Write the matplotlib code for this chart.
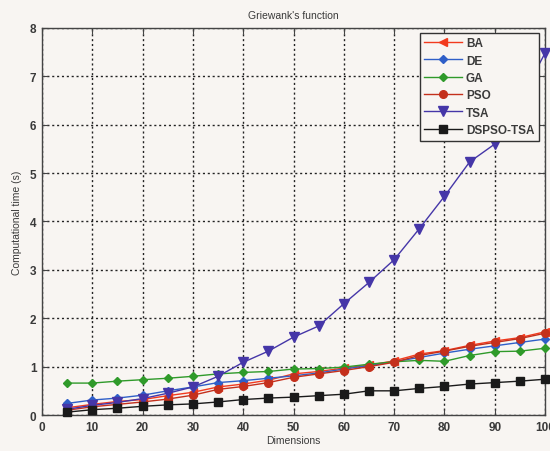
import numpy as np
import matplotlib.pyplot as plt
from matplotlib.lines import Line2D

plt.rcParams.update({'font.family': ['Liberation Sans', 'DejaVu Sans'], 'axes.unicode_minus': False})

dims = [5, 10, 15, 20, 25, 30, 35, 40, 45, 50, 55, 60, 65, 70, 75, 80, 85, 90, 95, 100]
ba = [0.15, 0.22, 0.28, 0.32, 0.40, 0.47, 0.58, 0.64, 0.72, 0.85, 0.90, 0.97, 1.03, 1.12, 1.26, 1.33, 1.44, 1.53, 1.60, 1.72]
de = [0.24, 0.31, 0.35, 0.41, 0.50, 0.58, 0.67, 0.71, 0.76, 0.81, 0.87, 0.95, 1.02, 1.10, 1.19, 1.28, 1.36, 1.43, 1.50, 1.57]
ga = [0.66, 0.66, 0.70, 0.73, 0.76, 0.80, 0.85, 0.88, 0.90, 0.95, 0.96, 0.99, 1.05, 1.10, 1.13, 1.11, 1.23, 1.31, 1.32, 1.38]
pso = [0.10, 0.17, 0.22, 0.27, 0.33, 0.41, 0.53, 0.59, 0.67, 0.78, 0.85, 0.92, 1.00, 1.09, 1.23, 1.32, 1.42, 1.50, 1.58, 1.69]
tsa = [0.12, 0.20, 0.26, 0.34, 0.45, 0.58, 0.80, 1.09, 1.32, 1.61, 1.84, 2.30, 2.74, 3.21, 3.85, 4.52, 5.23, 5.60, 6.50, 7.48]
dspso_tsa = [0.06, 0.11, 0.14, 0.18, 0.21, 0.23, 0.27, 0.32, 0.35, 0.37, 0.40, 0.43, 0.50, 0.50, 0.55, 0.59, 0.64, 0.67, 0.70, 0.74]

series = [
    ('BA', ba, '#f23a1e', '<'),
    ('DE', de, '#2f5fc8', 'D'),
    ('GA', ga, '#2f9a2a', 'D'),
    ('PSO', pso, '#c4301c', 'o'),
    ('TSA', tsa, '#4536a8', 'v'),
    ('DSPSO-TSA', dspso_tsa, '#1a1a1a', 's'),
]
msize = {'<': 6, 'D': 4.5, 'o': 5.5, 'v': 6.5, 's': 5.5}

TEXT = '#3a3a3a'
BG = '#f8f5f2'

fig = plt.figure(figsize=(5.5, 4.52), dpi=100, facecolor=BG)
ax = fig.add_axes([0.0764, 0.0796, 0.9146, 0.8564])
ax.set_facecolor(BG)

handles = []
for name, vals, color, marker in series:
    ax.plot(dims, vals, color=color, marker=marker, markersize=msize[marker],
            markerfacecolor=color, markeredgecolor=color, linewidth=1.0, zorder=3, clip_on=False)
    handles.append(Line2D([0], [0], color=color, marker=marker, markersize=msize[marker],
                          markerfacecolor=color, markeredgecolor=color, linewidth=1.0, label=name))

ax.set_xlim(0, 100)
ax.set_ylim(0, 8)
ax.set_xticks(np.arange(0, 101, 10))
ax.set_yticks(np.arange(0, 9, 1))
ax.grid(True, color='#222222', linestyle=(0, (1.5, 2.0)), linewidth=1.0)
ax.set_axisbelow(True)
for spine in ax.spines.values():
    spine.set_color('#444444')
    spine.set_linewidth(1.0)
ax.tick_params(direction='in', top=True, right=True, length=4, color='#444444',
               labelsize=8.5, labelcolor=TEXT, pad=4)
for lbl in ax.get_xticklabels() + ax.get_yticklabels():
    lbl.set_fontweight('bold')

ax.set_title("Griewank's function", fontsize=7.5, color=TEXT, pad=7)
ax.set_xlabel('Dimensions', fontsize=7.5, color=TEXT, labelpad=2)
ax.set_ylabel('Computational time (s)', fontsize=7.5, color=TEXT, labelpad=6)

leg = ax.legend(handles=handles, loc='upper right', bbox_to_anchor=(0.988, 0.988),
                fontsize=8.5, frameon=True, fancybox=False, framealpha=1.0,
                facecolor=BG, edgecolor='#333333', handlelength=3.2,
                handletextpad=0.3, labelspacing=0.45, borderpad=0.4, borderaxespad=0.0)
leg.get_frame().set_linewidth(1.0)
for t in leg.get_texts():
    t.set_color(TEXT)
    t.set_fontweight('bold')

fig.savefig('out.png', dpi=100, facecolor=BG)
